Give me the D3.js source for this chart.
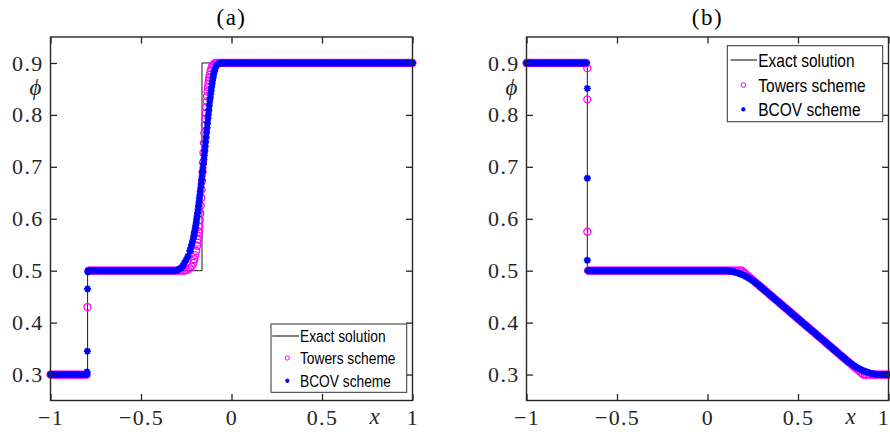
<!DOCTYPE html>
<html>
<head>
<meta charset="utf-8">
<title>Exact vs Towers vs BCOV</title>
<script src="https://d3js.org/d3.v7.min.js"></script>
<style>
  body { margin: 0; background: #fff; }
  .tick text { font-family: "Liberation Serif", serif; font-size: 22px; fill: #262626; letter-spacing: 1.3px; }
</style>
</head>
<body>
<div id="chart"></div>
<script>

// mesh spacing of the plotted numerical solutions, x_i = -1 + i*h, i = 0..200
var h = 0.01;

var xTicks = [-1, -0.5, 0, 0.5, 1];
var xTickLabels = ["\u22121", "\u22120.5", "0", "0.5", "1"];
var yTicks = [0.3, 0.4, 0.5, 0.6, 0.7, 0.8, 0.9];
var yTickLabels = ["0.3", "0.4", "0.5", "0.6", "0.7", "0.8", "0.9"];
var panelTitles = ["(a)", "(b)"];
var legendLabels = ["Exact solution", "Towers scheme", "BCOV scheme"];

// exact solutions, breakpoints [x, phi]
var exactA = [[-1, 0.3], [-0.795, 0.3], [-0.795, 0.5], [-0.163, 0.5], [-0.163, 0.9], [1, 0.9]];
var exactB = [[-1, 0.9], [-0.664, 0.9], [-0.664, 0.5], [0.19, 0.5], [0.86, 0.3], [1, 0.3]];

// panel (a), Towers scheme on the mesh
var towersA = [
  0.3,0.3,0.3,0.3,0.3,0.3,0.3,0.3,0.3,0.3,
  0.3,0.3,0.3,0.3,0.3,0.3,0.3,0.3,0.3,0.3,
  0.3,0.5,0.5,0.5,0.5,0.5,0.5,0.5,0.5,0.5,
  0.5,0.5,0.5,0.5,0.5,0.5,0.5,0.5,0.5,0.5,
  0.5,0.5,0.5,0.5,0.5,0.5,0.5,0.5,0.5,0.5,
  0.5,0.5,0.5,0.5,0.5,0.5,0.5,0.5,0.5,0.5,
  0.5,0.5,0.5,0.5,0.5,0.5,0.5,0.5,0.5,0.5,
  0.5,0.5,0.5,0.5,0.5,0.501,0.502,0.505,0.508,0.515,
  0.53,0.548,0.575,0.625,0.69,0.765,0.815,0.853,0.877,0.891,
  0.897,0.9,0.9,0.9,0.9,0.9,0.9,0.9,0.9,0.9,
  0.9,0.9,0.9,0.9,0.9,0.9,0.9,0.9,0.9,0.9,
  0.9,0.9,0.9,0.9,0.9,0.9,0.9,0.9,0.9,0.9,
  0.9,0.9,0.9,0.9,0.9,0.9,0.9,0.9,0.9,0.9,
  0.9,0.9,0.9,0.9,0.9,0.9,0.9,0.9,0.9,0.9,
  0.9,0.9,0.9,0.9,0.9,0.9,0.9,0.9,0.9,0.9,
  0.9,0.9,0.9,0.9,0.9,0.9,0.9,0.9,0.9,0.9,
  0.9,0.9,0.9,0.9,0.9,0.9,0.9,0.9,0.9,0.9,
  0.9,0.9,0.9,0.9,0.9,0.9,0.9,0.9,0.9,0.9,
  0.9,0.9,0.9,0.9,0.9,0.9,0.9,0.9,0.9,0.9,
  0.9,0.9,0.9,0.9,0.9,0.9,0.9,0.9,0.9,0.9,
  0.9
];
// extra Towers points read in the steep parts of (a)
var towersAExtra = [
  [-0.796, 0.43],
  [-0.205, 0.522], [-0.195, 0.538],
  [-0.1875, 0.554], [-0.185, 0.56], [-0.1825, 0.567],
  [-0.1775, 0.585], [-0.175, 0.597], [-0.1725, 0.61],
  [-0.1675, 0.64], [-0.165, 0.656], [-0.1625, 0.673],
  [-0.1575, 0.708], [-0.155, 0.727], [-0.1525, 0.746],
  [-0.1475, 0.78], [-0.145, 0.792], [-0.1425, 0.804],
  [-0.1375, 0.826], [-0.135, 0.836], [-0.1325, 0.845],
  [-0.1275, 0.86], [-0.125, 0.867], [-0.1225, 0.872],
  [-0.115, 0.885], [-0.105, 0.895]
];

// panel (a), BCOV scheme on the mesh
var bcovA = [
  0.3,0.3,0.3,0.3,0.3,0.3,0.3,0.3,0.3,0.3,
  0.3,0.3,0.3,0.3,0.3,0.3,0.3,0.3,0.3,0.3,
  0.3,0.5,0.5,0.5,0.5,0.5,0.5,0.5,0.5,0.5,
  0.5,0.5,0.5,0.5,0.5,0.5,0.5,0.5,0.5,0.5,
  0.5,0.5,0.5,0.5,0.5,0.5,0.5,0.5,0.5,0.5,
  0.5,0.5,0.5,0.5,0.5,0.5,0.5,0.5,0.5,0.5,
  0.5,0.5,0.5,0.5,0.5,0.5,0.5,0.5,0.5,0.5,
  0.501,0.503,0.505,0.509,0.515,0.521,0.528,0.538,0.55,0.564,
  0.582,0.605,0.632,0.66,0.69,0.722,0.757,0.793,0.826,0.854,
  0.876,0.889,0.896,0.899,0.9,0.9,0.9,0.9,0.9,0.9,
  0.9,0.9,0.9,0.9,0.9,0.9,0.9,0.9,0.9,0.9,
  0.9,0.9,0.9,0.9,0.9,0.9,0.9,0.9,0.9,0.9,
  0.9,0.9,0.9,0.9,0.9,0.9,0.9,0.9,0.9,0.9,
  0.9,0.9,0.9,0.9,0.9,0.9,0.9,0.9,0.9,0.9,
  0.9,0.9,0.9,0.9,0.9,0.9,0.9,0.9,0.9,0.9,
  0.9,0.9,0.9,0.9,0.9,0.9,0.9,0.9,0.9,0.9,
  0.9,0.9,0.9,0.9,0.9,0.9,0.9,0.9,0.9,0.9,
  0.9,0.9,0.9,0.9,0.9,0.9,0.9,0.9,0.9,0.9,
  0.9,0.9,0.9,0.9,0.9,0.9,0.9,0.9,0.9,0.9,
  0.9,0.9,0.9,0.9,0.9,0.9,0.9,0.9,0.9,0.9,
  0.9
];
var bcovAExtra = [
  [-0.798, 0.305], [-0.7965, 0.345], [-0.7955, 0.465], [-0.794, 0.498],
  [-0.225, 0.544], [-0.215, 0.557],
  [-0.2075, 0.568], [-0.205, 0.573], [-0.2025, 0.577],
  [-0.1975, 0.587], [-0.195, 0.593], [-0.1925, 0.599],
  [-0.1875, 0.611], [-0.185, 0.618], [-0.1825, 0.625],
  [-0.1775, 0.639], [-0.175, 0.646], [-0.1725, 0.653],
  [-0.1675, 0.667], [-0.165, 0.675], [-0.1625, 0.682],
  [-0.1575, 0.698], [-0.155, 0.706], [-0.1525, 0.714],
  [-0.1475, 0.731], [-0.145, 0.739], [-0.1425, 0.748],
  [-0.1375, 0.766], [-0.135, 0.775], [-0.1325, 0.784],
  [-0.1275, 0.801], [-0.125, 0.809], [-0.1225, 0.818],
  [-0.1175, 0.833], [-0.115, 0.84], [-0.1125, 0.847],
  [-0.1075, 0.86], [-0.105, 0.866], [-0.1025, 0.871],
  [-0.0975, 0.88], [-0.095, 0.884]
];

// panel (b), Towers scheme on the mesh
var towersB = [
  0.9,0.9,0.9,0.9,0.9,0.9,0.9,0.9,0.9,0.9,
  0.9,0.9,0.9,0.9,0.9,0.9,0.9,0.9,0.9,0.9,
  0.9,0.9,0.9,0.9,0.9,0.9,0.9,0.9,0.9,0.9,
  0.9,0.9,0.9,0.9,0.5,0.5,0.5,0.5,0.5,0.5,
  0.5,0.5,0.5,0.5,0.5,0.5,0.5,0.5,0.5,0.5,
  0.5,0.5,0.5,0.5,0.5,0.5,0.5,0.5,0.5,0.5,
  0.5,0.5,0.5,0.5,0.5,0.5,0.5,0.5,0.5,0.5,
  0.5,0.5,0.5,0.5,0.5,0.5,0.5,0.5,0.5,0.5,
  0.5,0.5,0.5,0.5,0.5,0.5,0.5,0.5,0.5,0.5,
  0.5,0.5,0.5,0.5,0.5,0.5,0.5,0.5,0.5,0.5,
  0.5,0.5,0.5,0.5,0.5,0.5,0.5,0.5,0.5,0.5,
  0.5,0.5,0.5,0.5,0.5,0.5,0.5,0.5,0.5,0.5,
  0.497,0.494,0.491,0.4881,0.4851,0.4821,0.4791,0.4761,0.4731,0.4701,
  0.4672,0.4642,0.4612,0.4582,0.4552,0.4522,0.4493,0.4463,0.4433,0.4403,
  0.4373,0.4343,0.4313,0.4284,0.4254,0.4224,0.4194,0.4164,0.4134,0.4104,
  0.4075,0.4045,0.4015,0.3985,0.3955,0.3925,0.3896,0.3866,0.3836,0.3806,
  0.3776,0.3746,0.3716,0.3687,0.3657,0.3627,0.3597,0.3567,0.3537,0.3507,
  0.3478,0.3448,0.3418,0.3388,0.3358,0.3328,0.3299,0.3269,0.3239,0.3209,
  0.3179,0.3149,0.3119,0.309,0.306,0.303,0.3,0.3,0.3,0.3,
  0.3,0.3,0.3,0.3,0.3,0.3,0.3,0.3,0.3,0.3,
  0.3
];
var towersBExtra = [[-0.664, 0.89], [-0.664, 0.83], [-0.664, 0.575]];

// panel (b), BCOV scheme on the mesh
var bcovB = [
  0.9,0.9,0.9,0.9,0.9,0.9,0.9,0.9,0.9,0.9,
  0.9,0.9,0.9,0.9,0.9,0.9,0.9,0.9,0.9,0.9,
  0.9,0.9,0.9,0.9,0.9,0.9,0.9,0.9,0.9,0.9,
  0.9,0.9,0.9,0.9,0.5,0.5,0.5,0.5,0.5,0.5,
  0.5,0.5,0.5,0.5,0.5,0.5,0.5,0.5,0.5,0.5,
  0.5,0.5,0.5,0.5,0.5,0.5,0.5,0.5,0.5,0.5,
  0.5,0.5,0.5,0.5,0.5,0.5,0.5,0.5,0.5,0.5,
  0.5,0.5,0.5,0.5,0.5,0.5,0.5,0.5,0.5,0.5,
  0.5,0.5,0.5,0.5,0.5,0.5,0.5,0.5,0.5,0.5,
  0.5,0.5,0.5,0.5,0.5,0.5,0.5,0.5,0.5,0.5,
  0.5,0.5,0.5,0.5,0.5,0.5,0.5,0.5,0.5,0.5,
  0.4999,0.4997,0.4993,0.4988,0.4981,0.4973,0.4963,0.4952,0.494,0.4925,
  0.491,0.4893,0.4874,0.4854,0.4832,0.4809,0.4784,0.4758,0.4731,0.4701,
  0.4672,0.4642,0.4612,0.4582,0.4552,0.4522,0.4493,0.4463,0.4433,0.4403,
  0.4373,0.4343,0.4313,0.4284,0.4254,0.4224,0.4194,0.4164,0.4134,0.4104,
  0.4075,0.4045,0.4015,0.3985,0.3955,0.3925,0.3896,0.3866,0.3836,0.3806,
  0.3776,0.3746,0.3716,0.3687,0.3657,0.3627,0.3597,0.3567,0.3537,0.3507,
  0.3478,0.3448,0.3418,0.3388,0.3358,0.3328,0.3299,0.3269,0.3242,0.3216,
  0.3191,0.3168,0.3146,0.3126,0.3108,0.309,0.3075,0.3061,0.3048,0.3037,
  0.3027,0.3019,0.3012,0.3007,0.3003,0.3001,0.3,0.3,0.3,0.3,
  0.3
];
var bcovBExtra = [[-0.664, 0.851], [-0.664, 0.678], [-0.664, 0.52]];


var svg = d3.select("#chart")
  .append("svg")
  .attr("width", 890)
  .attr("height", 432);

var asterisk = "M-3.5,0H3.5M0,-3.5V3.5M-2.5,-2.5L2.5,2.5M-2.5,2.5L2.5,-2.5";
var asteriskSmall = "M-2.3,0H2.3M0,-2.3V2.3M-1.6,-1.6L1.6,1.6M-1.6,1.6L1.6,-1.6";

function onMesh(values, extra) {
  return values.map(function (v, i) { return [-1 + i * h, v]; }).concat(extra);
}

function drawPanel(p) {
  var x = d3.scaleLinear().domain([-1, 1]).range([p.left, p.right]);
  var y = d3.scaleLinear().domain([0.25, 0.95]).range([400.5, 37]);
  var g = svg.append("g");

  // exact solution
  g.append("path")
    .datum(p.exact)
    .attr("d", d3.line().x(function (d) { return x(d[0]); }).y(function (d) { return y(d[1]); }))
    .attr("fill", "none")
    .attr("stroke", "#000")
    .attr("stroke-width", 0.9);

  // Towers scheme
  g.append("g").selectAll("circle")
    .data(onMesh(p.towers, p.towersExtra))
    .join("circle")
    .attr("cx", function (d) { return x(d[0]); })
    .attr("cy", function (d) { return y(d[1]); })
    .attr("r", 3.5)
    .attr("fill", "none")
    .attr("stroke", "#ff00ff")
    .attr("stroke-width", 1.3);

  // BCOV scheme
  g.append("g").selectAll("path")
    .data(onMesh(p.bcov, p.bcovExtra))
    .join("path")
    .attr("transform", function (d) { return "translate(" + x(d[0]) + "," + y(d[1]) + ")"; })
    .attr("d", asterisk)
    .attr("fill", "none")
    .attr("stroke", "#0000ff")
    .attr("stroke-width", 1.9);

  // axes (box with inward ticks)
  var bottom = g.append("g")
    .attr("transform", "translate(0,400.5)")
    .call(d3.axisBottom(x).tickValues(xTicks).tickSizeInner(-6.5).tickSizeOuter(0)
      .tickFormat(function (d, i) { return xTickLabels[i]; }));
  bottom.selectAll("text").attr("y", 24).attr("dy", null)
    .attr("x", function (d) { return d === 1 ? p.lastTickShift : 0; });

  g.append("g")
    .attr("transform", "translate(0,37)")
    .call(d3.axisTop(x).tickValues(xTicks).tickSizeInner(-6.5).tickSizeOuter(0).tickFormat(""));

  g.append("g")
    .attr("transform", "translate(" + p.left + ",0)")
    .call(d3.axisLeft(y).tickValues(yTicks).tickSizeInner(-6.5).tickSizeOuter(0).tickPadding(7)
      .tickFormat(function (d, i) { return yTickLabels[i]; }));

  g.append("g")
    .attr("transform", "translate(" + p.right + ",0)")
    .call(d3.axisRight(y).tickValues(yTicks).tickSizeInner(-6.5).tickSizeOuter(0).tickFormat(""));

  g.selectAll(".domain").remove();
  g.selectAll(".tick line").attr("stroke", "#262626").attr("stroke-width", 1.3);

  g.append("rect")
    .attr("x", p.left).attr("y", 37)
    .attr("width", p.right - p.left).attr("height", 400.5 - 37)
    .attr("fill", "none")
    .attr("stroke", "#262626")
    .attr("stroke-width", 1.4);

  // title and axis labels
  g.append("text")
    .attr("x", (p.left + p.right) / 2).attr("y", 25)
    .attr("text-anchor", "middle")
    .style("font-family", "Liberation Serif, serif")
    .style("font-size", "23px")
    .style("letter-spacing", "1.5px")
    .text(p.title);

  g.append("text")
    .attr("x", p.left - 15).attr("y", 95)
    .attr("text-anchor", "middle")
    .style("font-family", "Liberation Serif, DejaVu Serif, serif")
    .style("font-style", "italic")
    .style("font-size", "23px")
    .style("fill", "#262626")
    .text("\u03d5");

  g.append("text")
    .attr("x", p.right - 38).attr("y", 424)
    .attr("text-anchor", "middle")
    .style("font-family", "Liberation Serif, serif")
    .style("font-style", "italic")
    .style("font-size", "23px")
    .style("fill", "#262626")
    .text("x");

  // legend
  var L = p.legend;
  var lg = g.append("g");
  lg.append("rect")
    .attr("x", L.x).attr("y", L.y).attr("width", L.w).attr("height", L.h)
    .attr("fill", "#fff")
    .attr("stroke", "#333")
    .attr("stroke-width", 1);
  lg.append("line")
    .attr("x1", L.lineX0).attr("x2", L.lineX1)
    .attr("y1", L.rows[0]).attr("y2", L.rows[0])
    .attr("stroke", "#000").attr("stroke-width", 1);
  lg.append("circle")
    .attr("cx", L.markX).attr("cy", L.rows[1])
    .attr("r", L.markR)
    .attr("fill", "none").attr("stroke", "#ff00ff").attr("stroke-width", 1);
  lg.append("path")
    .attr("transform", "translate(" + L.markX + "," + L.rows[2] + ")")
    .attr("d", asteriskSmall)
    .attr("fill", "none").attr("stroke", "#0000ff").attr("stroke-width", 1.1);
  lg.selectAll("text")
    .data(legendLabels)
    .join("text")
    .attr("transform", function (d, i) {
      return "translate(" + L.textX + "," + (L.rows[i] + L.baseOff) + ") scale(0.86,1)";
    })
    .style("font-family", "Liberation Sans, Arial, sans-serif")
    .style("font-size", L.font + "px")
    .style("fill", "#000")
    .text(function (d) { return d; });
}

drawPanel({
  left: 50.5, right: 412.5, title: panelTitles[0], lastTickShift: 0,
  exact: exactA, towers: towersA, towersExtra: towersAExtra, bcov: bcovA, bcovExtra: bcovAExtra,
  legend: { x: 271, y: 324, w: 135.7, h: 68.3, lineX0: 272.3, lineX1: 299, markX: 287.3, markR: 2.1,
            textX: 300, rows: [336, 358, 380.7], baseOff: 6.2, font: 16 }
});

drawPanel({
  left: 526.5, right: 888.5, title: panelTitles[1], lastTickShift: -5,
  exact: exactB, towers: towersB, towersExtra: towersBExtra, bcov: bcovB, bcovExtra: bcovBExtra,
  legend: { x: 727.3, y: 45.7, w: 155.4, h: 76, lineX0: 730.5, lineX1: 757, markX: 743.3, markR: 2.3,
            textX: 758.3, rows: [60, 85, 109.3], baseOff: 6.8, font: 18 }
});

</script>
</body>
</html>
